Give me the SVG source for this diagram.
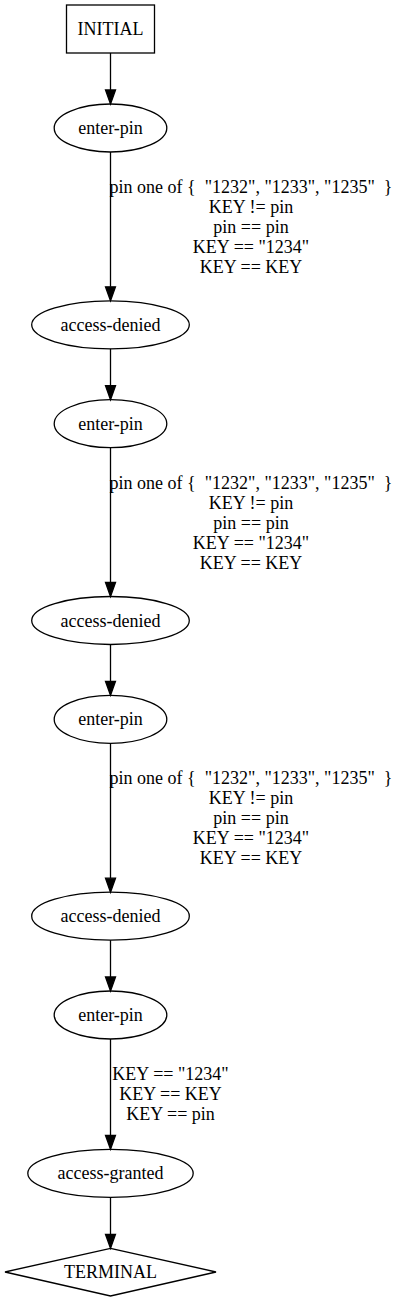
<svg xmlns="http://www.w3.org/2000/svg" width="400" height="1301" viewBox="0 0 400 1301">
<style>
  .n { fill: none; stroke: #000; stroke-width: 1.3; }
  .t { font-family: "Liberation Serif", "Times New Roman", serif; font-size: 18px; fill: #000; text-anchor: middle; }
  .e { stroke: #000; stroke-width: 1.3; fill: none; }
</style>
<defs>
  <marker id="arr" markerUnits="userSpaceOnUse" viewBox="0 0 14 10" refX="0" refY="5" markerWidth="14" markerHeight="10" orient="auto" overflow="visible">
    <path d="M0,0 L14,5 L0,10 Z" fill="#000" stroke="#000" stroke-width="1.3" stroke-linejoin="miter"/>
  </marker>
</defs>
<rect width="400" height="1301" fill="#fff"/>
<g id="connectors">
  <line class="e" x1="110.5" y1="53" x2="110.5" y2="90" marker-end="url(#arr)"/>
  <line class="e" x1="110.5" y1="152" x2="110.5" y2="286.8" marker-end="url(#arr)"/>
  <line class="e" x1="110.5" y1="348.8" x2="110.5" y2="385.7" marker-end="url(#arr)"/>
  <line class="e" x1="110.5" y1="447.7" x2="110.5" y2="582.5" marker-end="url(#arr)"/>
  <line class="e" x1="110.5" y1="644.5" x2="110.5" y2="681.3" marker-end="url(#arr)"/>
  <line class="e" x1="110.5" y1="743.3" x2="110.5" y2="878.2" marker-end="url(#arr)"/>
  <line class="e" x1="110.5" y1="940.2" x2="110.5" y2="977" marker-end="url(#arr)"/>
  <line class="e" x1="110.5" y1="1039" x2="110.5" y2="1135.3" marker-end="url(#arr)"/>
  <line class="e" x1="110.5" y1="1197.3" x2="110.5" y2="1234.3" marker-end="url(#arr)"/>
  <g id="label1" class="t">
    <text x="251" y="193" xml:space="preserve">pin one of {  "1232", "1233", "1235"  }</text>
    <text x="251" y="213">KEY != pin</text>
    <text x="251" y="233">pin == pin</text>
    <text x="251" y="253">KEY == "1234"</text>
    <text x="251" y="273">KEY == KEY</text>
  </g>
  <g id="label2" class="t">
    <text x="251" y="488.7" xml:space="preserve">pin one of {  "1232", "1233", "1235"  }</text>
    <text x="251" y="508.7">KEY != pin</text>
    <text x="251" y="528.7">pin == pin</text>
    <text x="251" y="548.7">KEY == "1234"</text>
    <text x="251" y="568.7">KEY == KEY</text>
  </g>
  <g id="label3" class="t">
    <text x="251" y="784.3" xml:space="preserve">pin one of {  "1232", "1233", "1235"  }</text>
    <text x="251" y="804.3">KEY != pin</text>
    <text x="251" y="824.3">pin == pin</text>
    <text x="251" y="844.3">KEY == "1234"</text>
    <text x="251" y="864.3">KEY == KEY</text>
  </g>
  <g id="label4" class="t">
    <text x="170.5" y="1079.5">KEY == "1234"</text>
    <text x="170.5" y="1099.8">KEY == KEY</text>
    <text x="170.5" y="1120">KEY == pin</text>
  </g>
</g>
<g id="initial">
  <rect class="n" x="66.5" y="5" width="88" height="48"/>
  <text class="t" x="110.5" y="35">INITIAL</text>
</g>
<g id="enter-pin-1">
  <ellipse class="n" cx="110.5" cy="128" rx="56.3" ry="24"/>
  <text class="t" x="110.5" y="134">enter-pin</text>
</g>
<g id="access-denied-1">
  <ellipse class="n" cx="110.5" cy="324.8" rx="78.8" ry="24"/>
  <text class="t" x="110.5" y="330.8">access-denied</text>
</g>
<g id="enter-pin-2">
  <ellipse class="n" cx="110.5" cy="423.7" rx="56.3" ry="24"/>
  <text class="t" x="110.5" y="429.7">enter-pin</text>
</g>
<g id="access-denied-2">
  <ellipse class="n" cx="110.5" cy="620.5" rx="78.8" ry="24"/>
  <text class="t" x="110.5" y="626.5">access-denied</text>
</g>
<g id="enter-pin-3">
  <ellipse class="n" cx="110.5" cy="719.3" rx="56.3" ry="24"/>
  <text class="t" x="110.5" y="725.3">enter-pin</text>
</g>
<g id="access-denied-3">
  <ellipse class="n" cx="110.5" cy="916.2" rx="78.8" ry="24"/>
  <text class="t" x="110.5" y="922.2">access-denied</text>
</g>
<g id="enter-pin-4">
  <ellipse class="n" cx="110.5" cy="1015" rx="56.3" ry="24"/>
  <text class="t" x="110.5" y="1021">enter-pin</text>
</g>
<g id="access-granted">
  <ellipse class="n" cx="110.5" cy="1173.3" rx="82.7" ry="24"/>
  <text class="t" x="110.5" y="1179.3">access-granted</text>
</g>
<g id="terminal">
  <polygon class="n" points="110.5,1248.3 216,1272 110.5,1296 5,1272"/>
  <text class="t" x="110.5" y="1277.8">TERMINAL</text>
</g>
</svg>
